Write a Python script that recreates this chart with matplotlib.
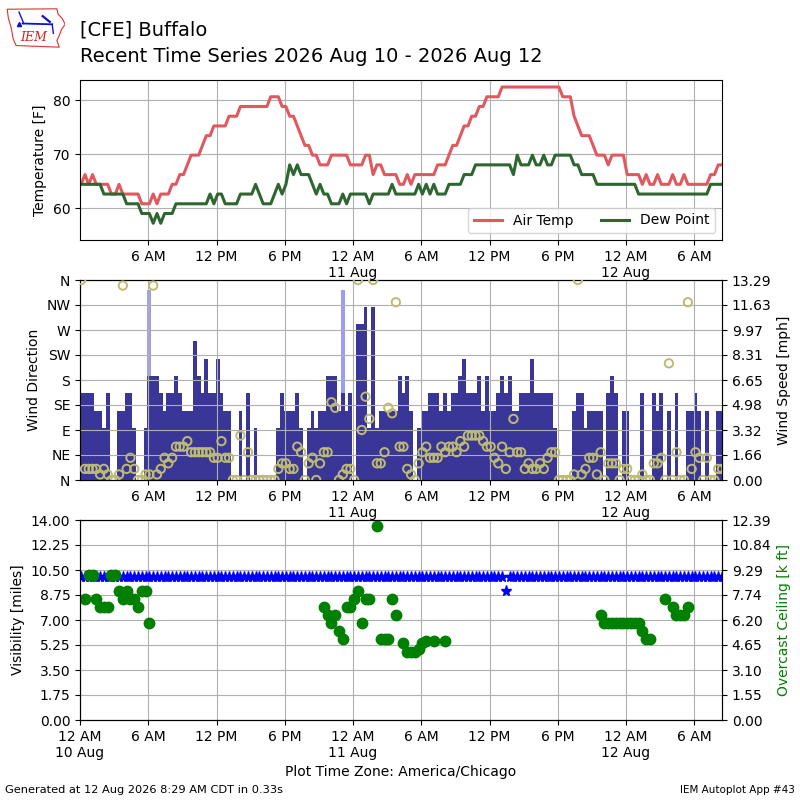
import numpy as np
import matplotlib
matplotlib.use("Agg")
import matplotlib.pyplot as plt
from matplotlib.patches import Polygon

# ---------------- data (20-minute AWOS observations, 170 obs) ----------------
title_line1 = "[CFE] Buffalo"
title_line2 = "Recent Time Series 2026 Aug 10 - 2026 Aug 12"
footer_left = "Generated at 12 Aug 2026 8:29 AM CDT in 0.33s"
footer_right = "IEM Autoplot App #43"
xlabel_text = "Plot Time Zone: America/Chicago"

tmpf = [64.4, 66.2, 64.4, 66.2, 64.4, 64.4, 64.4, 64.4, 62.6, 62.6,
        64.4, 62.6, 62.6, 62.6, 62.6, 62.6, 60.8, 60.8, 60.8, 62.6,
        60.8, 62.6, 62.6, 62.6, 64.4, 64.4, 66.2, 66.2, 68.0, 69.8,
        69.8, 69.8, 71.6, 73.4, 73.4, 75.2, 75.2, 75.2, 75.2, 77.0,
        77.0, 77.0, 78.8, 78.8, 78.8, 78.8, 78.8, 78.8, 78.8, 78.8,
        80.6, 80.6, 80.6, 78.8, 78.8, 77.0, 77.0, 75.2, 73.4, 71.6,
        71.6, 69.8, 69.8, 68.0, 68.0, 68.0, 69.8, 69.8, 69.8, 69.8,
        69.8, 68.0, 68.0, 68.0, 68.0, 69.8, 69.8, 66.2, 68.0, 68.0,
        66.2, 66.2, 66.2, 66.2, 64.4, 64.4, 66.2, 64.4, 66.2, 66.2,
        66.2, 66.2, 66.2, 66.2, 68.0, 68.0, 68.0, 69.8, 71.6, 71.6,
        73.4, 75.2, 75.2, 77.0, 77.0, 78.8, 78.8, 80.6, 80.6, 80.6,
        80.6, 82.4, 82.4, 82.4, 82.4, 82.4, 82.4, 82.4, 82.4, 82.4,
        82.4, 82.4, 82.4, 82.4, 82.4, 82.4, 82.4, 80.6, 80.6, 80.6,
        77.0, 75.2, 73.4, 73.4, 73.4, 71.6, 69.8, 69.8, 69.8, 68.0,
        69.8, 69.8, 69.8, 69.8, 66.2, 66.2, 66.2, 66.2, 64.4, 66.2,
        64.4, 64.4, 66.2, 64.4, 64.4, 64.4, 66.2, 64.4, 64.4, 66.2,
        64.4, 64.4, 64.4, 64.4, 64.4, 64.4, 66.2, 66.2, 68.0, 68.0]

dwpf = [64.4, 64.4, 64.4, 64.4, 64.4, 64.4, 62.6, 62.6, 62.6, 62.6,
        62.6, 62.6, 60.8, 60.8, 60.8, 60.8, 59.0, 59.0, 59.0, 57.2,
        59.0, 57.2, 59.0, 59.0, 59.0, 60.8, 60.8, 60.8, 60.8, 60.8,
        60.8, 60.8, 60.8, 60.8, 62.6, 60.8, 62.6, 62.6, 60.8, 60.8,
        60.8, 60.8, 62.6, 62.6, 62.6, 62.6, 64.4, 62.6, 60.8, 60.8,
        60.8, 62.6, 64.4, 62.6, 64.4, 68.0, 66.2, 68.0, 66.2, 66.2,
        66.2, 64.4, 62.6, 64.4, 62.6, 62.6, 60.8, 60.8, 60.8, 62.6,
        60.8, 62.6, 62.6, 62.6, 62.6, 62.6, 60.8, 62.6, 62.6, 62.6,
        62.6, 62.6, 64.4, 62.6, 62.6, 62.6, 62.6, 62.6, 62.6, 64.4,
        62.6, 64.4, 62.6, 64.4, 62.6, 62.6, 62.6, 64.4, 64.4, 64.4,
        64.4, 66.2, 66.2, 66.2, 68.0, 68.0, 68.0, 68.0, 68.0, 68.0,
        68.0, 68.0, 68.0, 68.0, 66.2, 69.8, 68.0, 68.0, 68.0, 69.8,
        68.0, 68.0, 69.8, 68.0, 68.0, 69.8, 69.8, 69.8, 69.8, 69.8,
        68.0, 68.0, 66.2, 66.2, 66.2, 66.2, 64.4, 64.4, 64.4, 64.4,
        64.4, 64.4, 64.4, 64.4, 64.4, 64.4, 64.4, 62.6, 62.6, 62.6,
        62.6, 62.6, 62.6, 62.6, 62.6, 62.6, 62.6, 62.6, 62.6, 62.6,
        62.6, 62.6, 62.6, 62.6, 62.6, 62.6, 64.4, 64.4, 64.4, 64.4]

# wind speed [kt]
sknt = [5, 5, 5, 5, 4, 4, 3, 5, 0, 0,
        4, 4, 5, 5, 3, 0, 0, 3, 6, 6,
        6, 5, 4, 5, 5, 6, 5, 4, 4, 4,
        8, 6, 5, 7, 5, 5, 7, 5, 4, 4,
        0, 0, 4, 0, 5, 0, 3, 0, 0, 0,
        0, 0, 3, 5, 4, 4, 4, 5, 3, 0,
        3, 4, 3, 4, 4, 6, 6, 6, 4, 5,
        4, 5, 0, 9, 9, 10, 3, 10, 3, 4,
        4, 4, 4, 4, 6, 5, 6, 4, 0, 3,
        4, 4, 5, 5, 5, 4, 5, 4, 5, 5,
        6, 7, 5, 5, 5, 6, 4, 6, 4, 4,
        5, 6, 5, 6, 4, 4, 5, 5, 5, 7,
        5, 5, 5, 5, 5, 3, 0, 0, 0, 0,
        4, 5, 5, 3, 4, 4, 4, 4, 0, 5,
        6, 5, 0, 4, 4, 0, 0, 0, 5, 0,
        0, 5, 4, 5, 0, 4, 0, 5, 0, 0,
        4, 4, 5, 4, 0, 4, 0, 0, 4, 4]

gust_obs = [18, 69]
gust_kt = [11, 11]

# wind direction [deg]
drct = [360, 20, 20, 20, 20, 10, 20, 10, 0, 0,
        10, 350, 20, 40, 20, 0, 0, 10, 10, 350,
        10, 20, 40, 30, 40, 60, 60, 60, 70, 50,
        50, 50, 50, 50, 50, 40, 40, 70, 40, 40,
        0, 0, 80, 0, 50, 0, 0, 0, 0, 0,
        0, 0, 20, 30, 30, 20, 20, 60, 50, 0,
        30, 40, 0, 30, 50, 50, 140, 130, 0, 10,
        20, 20, 0, 360, 90, 150, 110, 360, 30, 30,
        50, 130, 120, 320, 60, 60, 20, 10, 0, 30,
        50, 60, 40, 40, 40, 60, 50, 60, 60, 50,
        70, 60, 80, 80, 80, 80, 70, 60, 60, 40,
        30, 60, 20, 50, 110, 50, 50, 20, 30, 20,
        20, 30, 20, 40, 50, 50, 0, 0, 0, 0,
        10, 360, 10, 20, 40, 40, 10, 50, 0, 30,
        30, 30, 0, 20, 20, 0, 0, 0, 10, 0,
        0, 30, 30, 40, 0, 210, 0, 50, 0, 0,
        320, 20, 50, 40, 0, 40, 0, 0, 20, 20]

# visibility [miles]
vsby = [10, 10, 10, 10, 10, 10, 10, 10, 10, 10,
        10, 10, 10, 10, 10, 10, 10, 10, 10, 10,
        10, 10, 10, 10, 10, 10, 10, 10, 10, 10,
        10, 10, 10, 10, 10, 10, 10, 10, 10, 10,
        10, 10, 10, 10, 10, 10, 10, 10, 10, 10,
        10, 10, 10, 10, 10, 10, 10, 10, 10, 10,
        10, 10, 10, 10, 10, 10, 10, 10, 10, 10,
        10, 10, 10, 10, 10, 10, 10, 10, 10, 10,
        10, 10, 10, 10, 10, 10, 10, 10, 10, 10,
        10, 10, 10, 10, 10, 10, 10, 10, 10, 10,
        10, 10, 10, 10, 10, 10, 10, 10, 10, 10,
        10, 10, 9, 10, 10, 10, 10, 10, 10, 10,
        10, 10, 10, 10, 10, 10, 10, 10, 10, 10,
        10, 10, 10, 10, 10, 10, 10, 10, 10, 10,
        10, 10, 10, 10, 10, 10, 10, 10, 10, 10,
        10, 10, 10, 10, 10, 10, 10, 10, 10, 10,
        10, 10, 10, 10, 10, 10, 10, 10, 10, 10]

# overcast ceiling [k ft] at the observations that reported one
ceil_obs = [1, 2, 3, 4, 5, 6, 7, 8, 9, 10, 11, 12, 13, 14, 15, 16, 17, 18,
            64, 65, 66, 67, 68, 69, 70, 71, 72, 73, 74, 75, 76, 78, 79, 80,
            81, 82, 83, 85, 86, 87, 88, 89, 90, 91, 93, 96,
            137, 138, 139, 140, 141, 142, 143, 144, 145, 146, 147, 148, 149,
            150, 154, 156, 157, 158, 159, 160]
ceil_kft = [7.5, 9.0, 9.0, 7.5, 7.0, 7.0, 7.0, 9.0, 9.0, 8.0, 7.5, 8.0, 7.5,
            7.5, 7.0, 8.0, 8.0, 6.0,
            7.0, 6.5, 6.0, 6.5, 5.5, 5.0, 7.0, 7.0, 7.5, 8.0, 6.0, 7.5, 7.5,
            12.0, 5.0, 5.0, 5.0, 7.5, 6.5, 4.8, 4.2, 4.2, 4.2, 4.4, 4.8, 4.9,
            4.9, 4.9,
            6.5, 6.0, 6.0, 6.0, 6.0, 6.0, 6.0, 6.0, 6.0, 6.0, 6.0, 5.5, 5.0,
            5.0, 7.5, 7.0, 6.5, 6.5, 6.5, 7.0]

tick_hours = [0, 6, 12, 18, 24, 30, 36, 42, 48, 54]
tick_labels = ["12 AM\n10 Aug", "6 AM", "12 PM", "6 PM", "12 AM\n11 Aug",
               "6 AM", "12 PM", "6 PM", "12 AM\n12 Aug", "6 AM"]
dir_labels = ["N", "NE", "E", "SE", "S", "SW", "W", "NW", "N"]

# ---------------- derived ----------------
KT2MPH = 1.15078
nobs = len(tmpf)
hours = np.arange(nobs) / 3.0 + 0.1          # observation times, hours after 00:00 Aug 10
xmin, xmax = 0.0, hours[-1]
smph = np.array(sknt) * KT2MPH
gust_h = hours[gust_obs]
gust_mph = np.array(gust_kt) * KT2MPH
ceil_h = hours[ceil_obs]

fig = plt.figure(figsize=(8, 8), dpi=100)
L, W = 0.1, 0.8025

# ---- panel 1: temperature ----
ax1 = fig.add_axes([L, 0.70, W, 0.20])
ax1.plot(hours, tmpf, color="#e0595f", lw=2.2, label="Air Temp")
ax1.plot(hours, dwpf, color="#2e6630", lw=2.2, label="Dew Point")
ax1.set_xlim(xmin, xmax)
ax1.set_ylim(54.1, 83.7)
ax1.set_yticks([60, 70, 80])
ax1.set_ylabel("Temperature [F]")
ax1.set_xticks(tick_hours[1:])
ax1.set_xticklabels(tick_labels[1:])
ax1.grid(True, color="#b0b0b0")
ax1.legend(loc="lower right", ncol=2, fontsize=10)

# ---- panel 2: wind ----
ax2 = fig.add_axes([L, 0.40, W, 0.25])
ax2r = ax2.twinx()
ax2r.bar(gust_h, gust_mph, width=1 / 3.0, color="#9c9cf5", zorder=1)
ax2r.bar(hours, smph, width=1 / 3.0, color="#393697", zorder=2)
smax = 13.292
ax2r.set_ylim(0, smax)
ax2r.set_yticks(np.linspace(0, smax, 9))
ax2r.set_yticklabels(["%.2f" % v for v in np.linspace(0, smax, 9)])
ax2r.set_ylabel("Wind Speed [mph]")
ax2.set_zorder(ax2r.get_zorder() + 1)
ax2.patch.set_visible(False)
ax2.scatter(hours, drct, s=36, facecolors="none", edgecolors="#bdbb73",
            linewidths=1.4, zorder=3)
ax2.set_ylim(0, 360)
ax2.set_yticks(np.arange(0, 361, 45))
ax2.set_yticklabels(dir_labels)
ax2.set_ylabel("Wind Direction")
ax2.set_xlim(xmin, xmax)
ax2.set_xticks(tick_hours[1:])
ax2.set_xticklabels(tick_labels[1:])
ax2.grid(True, color="#b0b0b0")

# ---- panel 3: visibility / ceiling ----
ax3 = fig.add_axes([L, 0.10, W, 0.25])
ax3.plot(hours, vsby, linestyle="none", marker="*", color="b", ms=8)
ax3.set_ylim(0, 14)
ax3.set_yticks(np.linspace(0, 14, 9))
ax3.set_yticklabels(["%.2f" % v for v in np.linspace(0, 14, 9)])
ax3.set_ylabel("Visibility [miles]")
ax3.set_xlim(xmin, xmax)
ax3.set_xticks(tick_hours)
ax3.set_xticklabels(tick_labels)
ax3.grid(True, color="#b0b0b0")
ax3.set_xlabel(xlabel_text)
ax3r = ax3.twinx()
ax3r.plot(ceil_h, ceil_kft, linestyle="none", marker="o", color="green", ms=7.5)
cmax = 12.39
ax3r.set_ylim(0, cmax)
ax3r.set_yticks(np.linspace(0, cmax, 9))
ax3r.set_yticklabels(["%.2f" % v for v in np.linspace(0, cmax, 9)])
ax3r.set_ylabel("Overcast Ceiling [k ft]", color="green")
ax3r.set_xlim(xmin, xmax)

# ---- titles / footer ----
fig.text(0.1, 0.9625, title_line1, fontsize=14, va="center")
fig.text(0.1, 0.929, title_line2, fontsize=14, va="center")
fig.text(0.006, 0.0125, footer_left, fontsize=8.2, va="center")
fig.text(0.994, 0.0125, footer_right, fontsize=7.5, va="center", ha="right")

# ---- logo ----
lg = fig.add_axes([0.0075, 0.939, 0.074, 0.051])
lg.set_xlim(0, 1)
lg.set_ylim(0, 1)
lg.axis("off")
iowa = [(0.02, 0.97), (0.86, 0.98), (0.88, 0.85), (0.95, 0.74), (1.0, 0.60),
        (0.94, 0.48), (0.90, 0.33), (0.86, 0.20), (0.90, 0.04), (0.17, 0.08),
        (0.12, 0.25), (0.09, 0.50), (0.04, 0.75)]
lg.add_patch(Polygon(iowa, closed=True, fill=False, ec="#e03030", lw=0.8))
lg.text(0.47, 0.28, "IEM", color="#d02020", fontsize=9, style="italic",
        family="DejaVu Serif", ha="center", va="center")
lg.plot([0.28, 0.78], [0.62, 0.60], color="#1010d0", lw=1.3)
lg.plot([0.22, 0.30], [0.90, 0.62], color="#1010d0", lw=1.0)
lg.plot([0.62, 0.74], [0.80, 0.66], color="#1010d0", lw=1.6)
lg.plot([0.78, 0.80], [0.60, 0.38], color="#1010d0", lw=1.0)
lg.plot([0.22], [0.60], marker="^", color="#1010d0", ms=3)

fig.savefig("out.png", dpi=100)
